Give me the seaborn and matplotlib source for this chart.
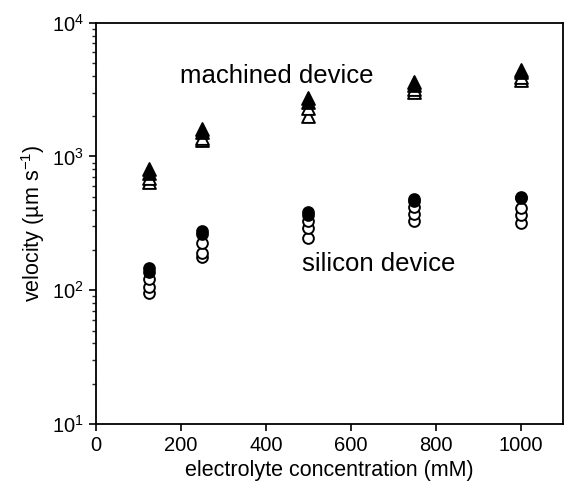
import numpy as np
import pandas as pd
import matplotlib
matplotlib.use("Agg")
import matplotlib.pyplot as plt
import seaborn as sns

conc = [125, 250, 500, 750, 1000]
# machined device (triangles)
mach_filled_1 = [800, 1600, 2720, 3600, 4450]
mach_filled_2 = [750, 1520, 2550, 3450, 4250]
mach_open_1 = [690, 1380, 2300, 3200, 3950]
mach_open_2 = [640, 1330, 2000, 3050, 3700]
# silicon device (circles)
sil_filled_1 = [146, 276, 385, 478, 500]
sil_filled_2 = [136, 262, 365, 462, 485]
sil_open_1 = [122, 226, 330, 420, 410]
sil_open_2 = [105, 190, 292, 372, 362]
sil_open_3 = [96, 178, 246, 330, 320]

sns.set_theme(style="ticks")
plt.rcParams['font.family'] = ['Liberation Sans', 'DejaVu Sans']
plt.rcParams['text.color'] = 'black'
plt.rcParams['axes.labelcolor'] = 'black'

fig = plt.figure(figsize=(5.64, 4.92), dpi=100)
ax = fig.add_axes([0.1702, 0.1382, 0.828, 0.8157])

def scat(vals, marker, filled, size):
    df = pd.DataFrame({"x": conc, "y": vals})
    sns.scatterplot(data=df, x="x", y="y", ax=ax, marker=marker, s=size,
                    facecolor="black" if filled else "white",
                    edgecolor="black", linewidth=1.4, zorder=3)

for v in [mach_open_2, mach_open_1]:
    scat(v, "^", False, 85)
for v in [mach_filled_2, mach_filled_1]:
    scat(v, "^", True, 85)
for v in [sil_open_3, sil_open_2, sil_open_1]:
    scat(v, "o", False, 60)
for v in [sil_filled_2, sil_filled_1]:
    scat(v, "o", True, 60)

ax.set_yscale("log")
ax.set_xlim(0, 1100)
ax.set_ylim(10, 10000)
ax.set_xticks([0, 200, 400, 600, 800, 1000])
ax.set_xlabel("electrolyte concentration (mM)", fontsize=15.5, color="black")
ax.set_ylabel("velocity (\u00b5m s$^{\\mathregular{-1}}$)", fontsize=15.5, color="black")
ax.tick_params(axis="both", which="major", labelsize=14.5, length=5, width=1.2,
               colors="black", direction="out")
ax.tick_params(axis="y", which="minor", length=3, width=1.0, direction="out")
for sp in ax.spines.values():
    sp.set_linewidth(1.3)
    sp.set_color("black")

ax.text(198, 4000, "machined device", fontsize=18.5, va="center", ha="left", color="black")
ax.text(485, 156, "silicon device", fontsize=18.5, va="center", ha="left", color="black")

fig.savefig("out.png", dpi=100)
